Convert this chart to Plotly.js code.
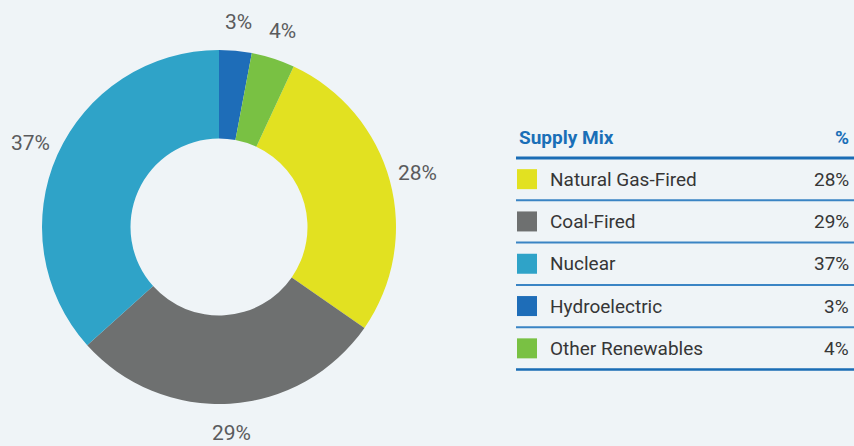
<!DOCTYPE html>
<html>
<head>
<meta charset="utf-8">
<script src="https://cdn.plot.ly/plotly-3.0.1.min.js"></script>
<style>
  html, body { margin: 0; padding: 0; background: #eff4f7; }
  #chart { width: 854px; height: 446px; }
</style>
</head>
<body>
<div id="chart"></div>
<script>
// ---- data (table order) ----
var categories = ["Natural Gas-Fired", "Coal-Fired", "Nuclear", "Hydroelectric", "Other Renewables"];
var shares = [28, 29, 37, 3, 4];
var shareLabels = ["28%", "29%", "37%", "3%", "4%"];
var colors = ["#e2e121", "#6e7070", "#2fa3c8", "#1e6db8", "#79c143"];
var headerLabel = "Supply Mix";
var headerPct = "%";

// ---- layout helpers ----
var W = 854, H = 446;
function px(x) { return x / W; }
function py(y) { return 1 - y / H; }

var cx = 219, cy = 227, R = 177;
var total = shares.reduce(function (a, b) { return a + b; }, 0);
// Hydroelectric and Other Renewables sit before the first slice, clockwise from 12 o'clock
var lead = shares[3] + shares[4];
var rotation = lead / total * 360;

var annotations = [];
var shapes = [];

// donut value labels placed radially at each slice's mid angle
var cum = rotation;
var rLabel = 206;
for (var i = 0; i < shares.length; i++) {
  var span = shares[i] / total * 360;
  var mid = (cum + span / 2) * Math.PI / 180;
  cum += span;
  annotations.push({
    x: px(cx + rLabel * Math.sin(mid)),
    y: py(cy - rLabel * Math.cos(mid)),
    xref: "paper", yref: "paper",
    text: shareLabels[i], showarrow: false,
    xanchor: "center", yanchor: "middle",
    font: { family: "Roboto, sans-serif", size: 21, color: "#5a5b5d" }
  });
}

// table
var tLeft = 516, tRight = 854, headerY = 137, headLine = 158, rowH = 42.3;
annotations.push({
  x: px(tLeft + 1), y: py(headerY), xref: "paper", yref: "paper",
  text: "<b>" + headerLabel + "</b>", showarrow: false,
  xanchor: "left", yanchor: "middle",
  font: { family: "Roboto, sans-serif", size: 19, color: "#1a6fb7" }
});
annotations.push({
  x: px(851), y: py(headerY), xref: "paper", yref: "paper",
  text: "<b>" + headerPct + "</b>", showarrow: false,
  xanchor: "right", yanchor: "middle",
  font: { family: "Roboto, sans-serif", size: 19, color: "#1a6fb7" }
});
shapes.push({
  type: "line", xref: "paper", yref: "paper",
  x0: px(tLeft), x1: px(tRight), y0: py(headLine), y1: py(headLine),
  line: { color: "#1a6db5", width: 3 }
});
for (var j = 0; j < categories.length; j++) {
  var yc = headLine + rowH * (j + 0.5);
  var yl = headLine + rowH * (j + 1);
  shapes.push({
    type: "rect", xref: "paper", yref: "paper",
    x0: px(517), x1: px(537), y0: py(yc - 10), y1: py(yc + 10),
    fillcolor: colors[j], line: { width: 0 }
  });
  annotations.push({
    x: px(548), y: py(yc), xref: "paper", yref: "paper",
    text: categories[j], showarrow: false,
    xanchor: "left", yanchor: "middle",
    font: { family: "Roboto, sans-serif", size: 19, color: "#363636" }
  });
  annotations.push({
    x: px(851), y: py(yc), xref: "paper", yref: "paper",
    text: shareLabels[j], showarrow: false,
    xanchor: "right", yanchor: "middle",
    font: { family: "Roboto, sans-serif", size: 19, color: "#363636" }
  });
  var last = (j === categories.length - 1);
  shapes.push({
    type: "line", xref: "paper", yref: "paper",
    x0: px(tLeft), x1: px(tRight), y0: py(yl), y1: py(yl),
    line: { color: last ? "#1a6db5" : "#3a84c4", width: last ? 2.5 : 2 }
  });
}

var trace = {
  type: "pie",
  labels: categories,
  values: shares,
  marker: { colors: colors, line: { width: 0 } },
  hole: 0.5,
  sort: false,
  direction: "clockwise",
  rotation: rotation,
  textinfo: "none",
  hoverinfo: "label+percent",
  domain: { x: [px(cx - R), px(cx + R)], y: [py(cy + R), py(cy - R)] }
};

var layout = {
  width: W, height: H,
  margin: { l: 0, r: 0, t: 0, b: 0 },
  paper_bgcolor: "#eff4f7",
  plot_bgcolor: "#eff4f7",
  showlegend: false,
  annotations: annotations,
  shapes: shapes,
  font: { family: "Roboto, sans-serif" }
};

Plotly.newPlot("chart", [trace], layout, { displayModeBar: false, staticPlot: true });
</script>
</body>
</html>
